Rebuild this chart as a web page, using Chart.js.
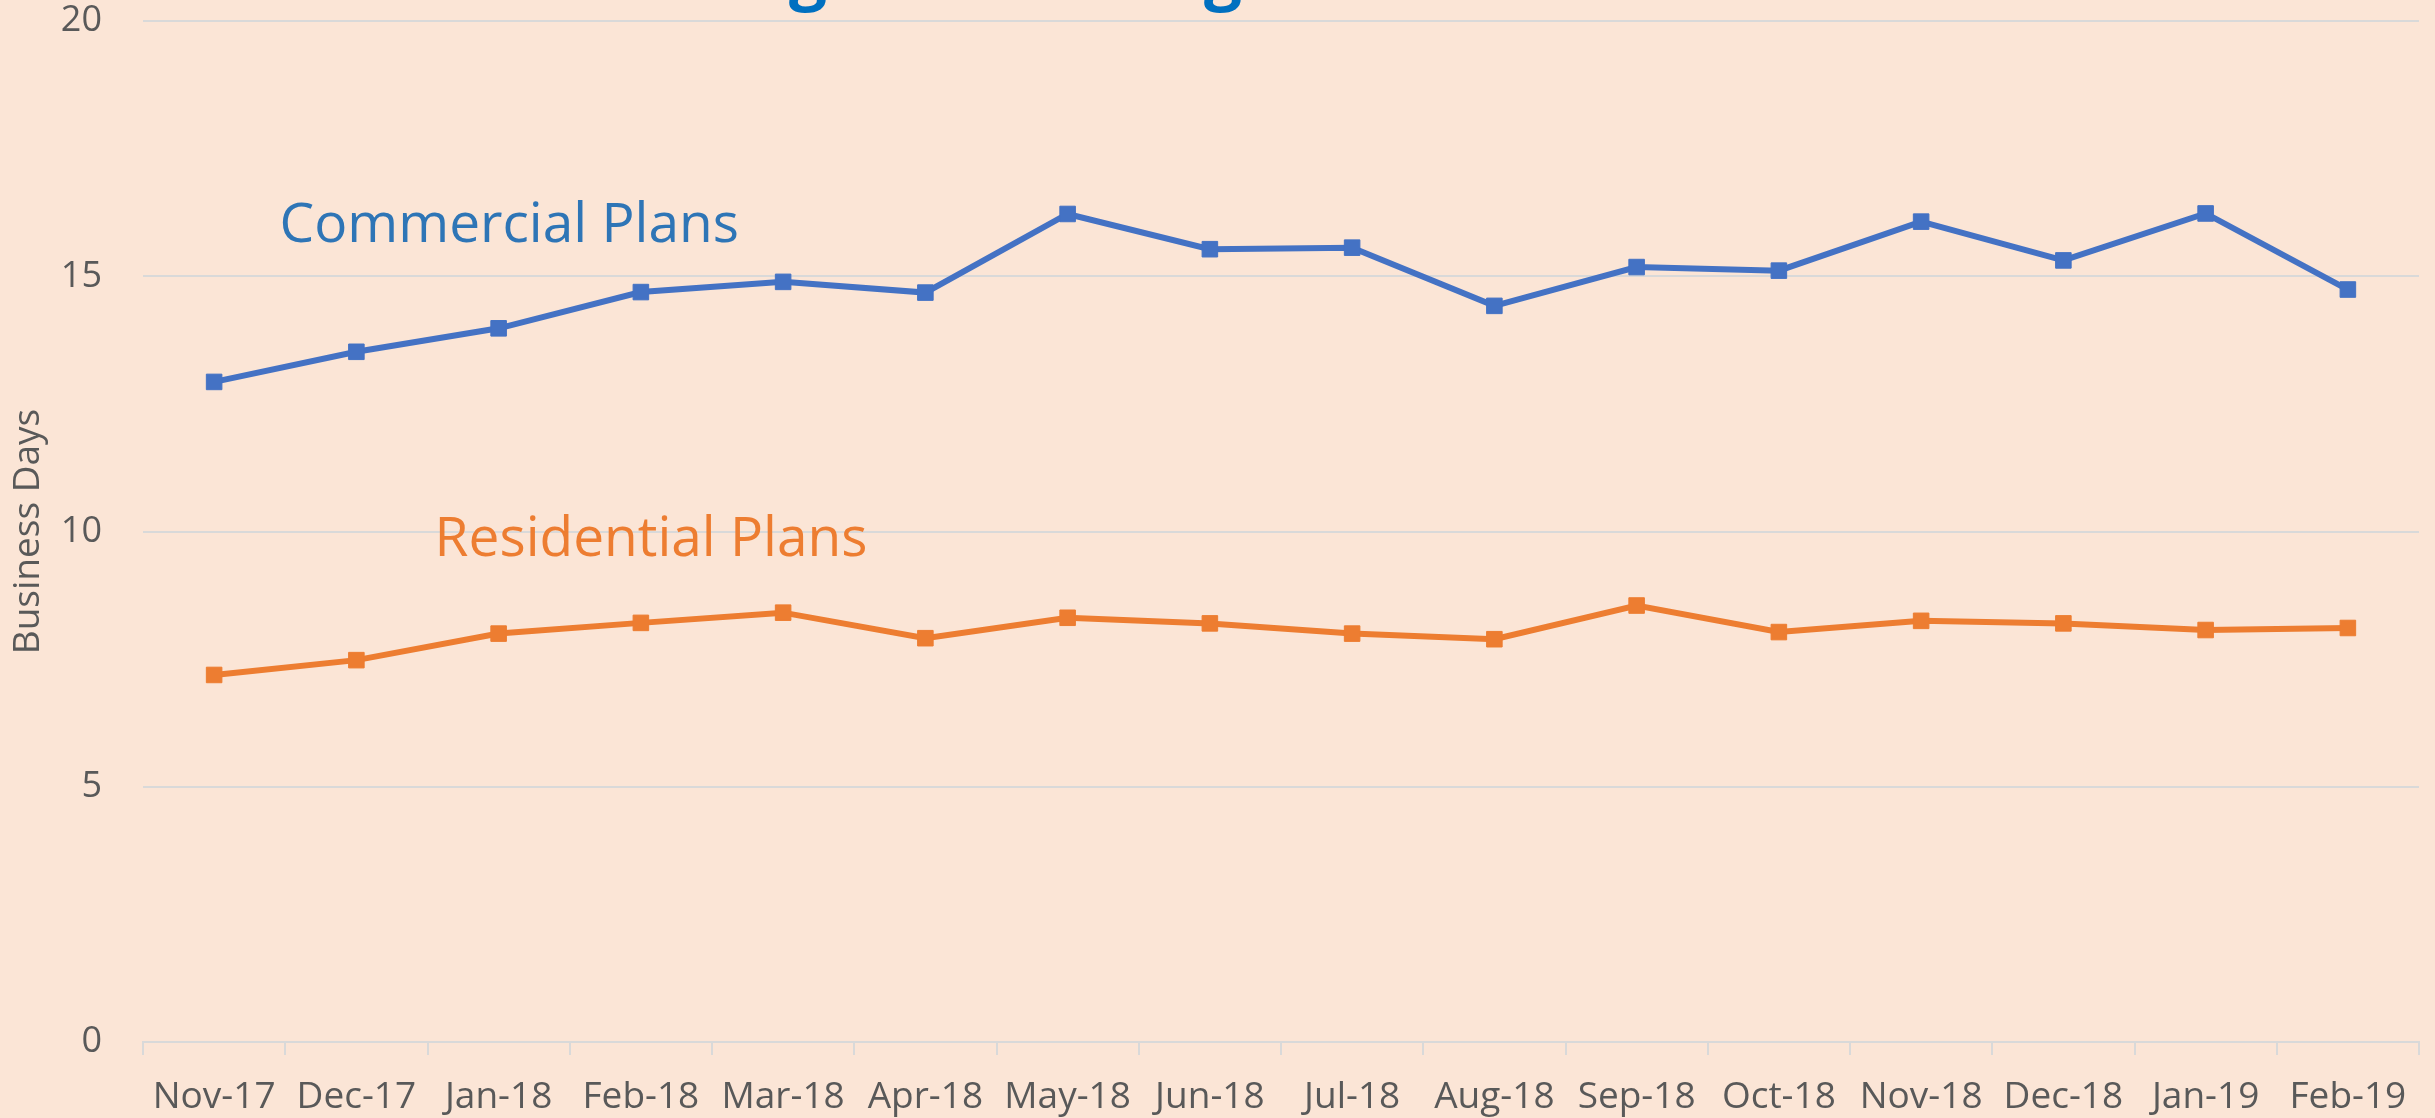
<!DOCTYPE html>
<html>
<head>
<meta charset="utf-8">
<script src="https://cdn.jsdelivr.net/npm/chart.js@4.4.0/dist/chart.umd.min.js"></script>
<style>
  html, body { margin: 0; padding: 0; background: #FBE5D6; }
  #wrap { width: 2435px; height: 1118px; position: relative; }
</style>
</head>
<body>
<div id="wrap"><canvas id="planChart"></canvas></div>
<script>
// Données
const months = ['Nov-17', 'Dec-17', 'Jan-18', 'Feb-18', 'Mar-18', 'Apr-18', 'May-18', 'Jun-18',
                'Jul-18', 'Aug-18', 'Sep-18', 'Oct-18', 'Nov-18', 'Dec-18', 'Jan-19', 'Feb-19'];
const commercial = [12.93, 13.52, 13.98, 14.69, 14.89, 14.68, 16.22, 15.53,
                    15.56, 14.42, 15.18, 15.11, 16.07, 15.31, 16.23, 14.74];
const residential = [7.19, 7.48, 8.00, 8.21, 8.41, 7.91, 8.31, 8.20,
                     8.00, 7.89, 8.55, 8.03, 8.25, 8.20, 8.07, 8.11];
const yTicks = [0, 5, 10, 15, 20];

const BG = '#FBE5D6';
const GRID = '#D9D9D9';
const TEXT = '#595959';
const BLUE = '#4472C4';
const ORANGE = '#ED7D31';

// Étiquettes des séries posées dans le graphique (index de catégorie, valeur)
const seriesLabels = [
    { text: 'Commercial Plans', at: [0.46, 15.67], color: '#2E75B6', size: 55 },
    { text: 'Residential Plans', at: [1.55, 9.52], color: ORANGE, size: 55 }
];

const backgroundPlugin = {
    id: 'background',
    beforeDraw(chart) {
        const ctx = chart.ctx;
        ctx.save();
        ctx.fillStyle = BG;
        ctx.fillRect(0, 0, chart.width, chart.height);
        ctx.restore();
    }
};

// Titre coupé en haut de l'image : seules les queues des "g" restent visibles
const titlePlugin = {
    id: 'cutTitle',
    afterDraw(chart) {
        const ctx = chart.ctx;
        const text = 'Average Processing Time';
        ctx.save();
        ctx.font = 'bold 100px "Open Sans"';
        const span = ctx.measureText('Average Processin').width - ctx.measureText('Avera').width;
        const size = 100 * 415 / span;
        ctx.font = 'bold ' + size + 'px "Open Sans"';
        const gw = ctx.measureText('g').width;
        const startX = 808 - ctx.measureText('Avera').width - gw / 2;
        ctx.fillStyle = '#0070C0';
        ctx.textBaseline = 'alphabetic';
        ctx.textAlign = 'left';
        ctx.fillText(text, startX, -3);
        ctx.restore();
    }
};

const seriesLabelPlugin = {
    id: 'seriesLabels',
    afterDatasetsDraw(chart) {
        const { ctx, scales: { x, y } } = chart;
        ctx.save();
        ctx.textAlign = 'left';
        ctx.textBaseline = 'alphabetic';
        seriesLabels.forEach(l => {
            ctx.font = l.size + 'px "Open Sans"';
            ctx.fillStyle = l.color;
            ctx.fillText(l.text, x.getPixelForValue(l.at[0]), y.getPixelForValue(l.at[1]));
        });
        ctx.restore();
    }
};

function lineDataset(label, data, color) {
    return {
        label: label,
        data: data,
        borderColor: color,
        backgroundColor: color,
        borderWidth: 6,
        tension: 0,
        pointStyle: 'rect',
        pointRadius: 11,
        pointBorderWidth: 1,
        pointBackgroundColor: color,
        pointBorderColor: color
    };
}

const ctx = document.getElementById('planChart').getContext('2d');
new Chart(ctx, {
    type: 'line',
    data: {
        labels: months,
        datasets: [
            lineDataset('Commercial Plans', commercial, BLUE),
            lineDataset('Residential Plans', residential, ORANGE)
        ]
    },
    options: {
        responsive: true,
        maintainAspectRatio: false,
        animation: false,
        layout: { padding: { top: 21, right: 16, left: 0, bottom: 0 } },
        plugins: {
            legend: { display: false },
            tooltip: { enabled: false },
            title: { display: false }
        },
        scales: {
            x: {
                offset: true,
                grid: {
                    offset: true,
                    drawOnChartArea: false,
                    drawTicks: true,
                    tickLength: 13,
                    color: GRID,
                    lineWidth: 2
                },
                border: { display: true, color: GRID, width: 2 },
                ticks: {
                    color: TEXT,
                    font: { family: 'Open Sans', size: 37 },
                    padding: 20,
                    maxRotation: 0,
                    autoSkip: false
                },
                afterFit: function(scale) {
                    scale.height = 76;
                    scale.paddingLeft = 0;
                    scale.paddingRight = 0;
                }
            },
            y: {
                min: 0,
                max: 20,
                afterBuildTicks: function(scale) {
                    scale.ticks = yTicks.map(v => ({ value: v }));
                },
                grid: { color: GRID, lineWidth: 2, drawTicks: false },
                border: { display: false },
                ticks: {
                    color: TEXT,
                    font: { family: 'Open Sans', size: 36 },
                    padding: 41
                },
                title: {
                    display: true,
                    text: 'Business Days',
                    color: TEXT,
                    font: { family: 'Open Sans', size: 37 },
                    padding: { top: 6, bottom: 0 }
                },
                afterFit: function(scale) {
                    scale.width = 143;
                    scale.paddingTop = 0;
                    scale.paddingBottom = 0;
                }
            }
        }
    },
    plugins: [backgroundPlugin, seriesLabelPlugin, titlePlugin]
});
</script>
</body>
</html>
